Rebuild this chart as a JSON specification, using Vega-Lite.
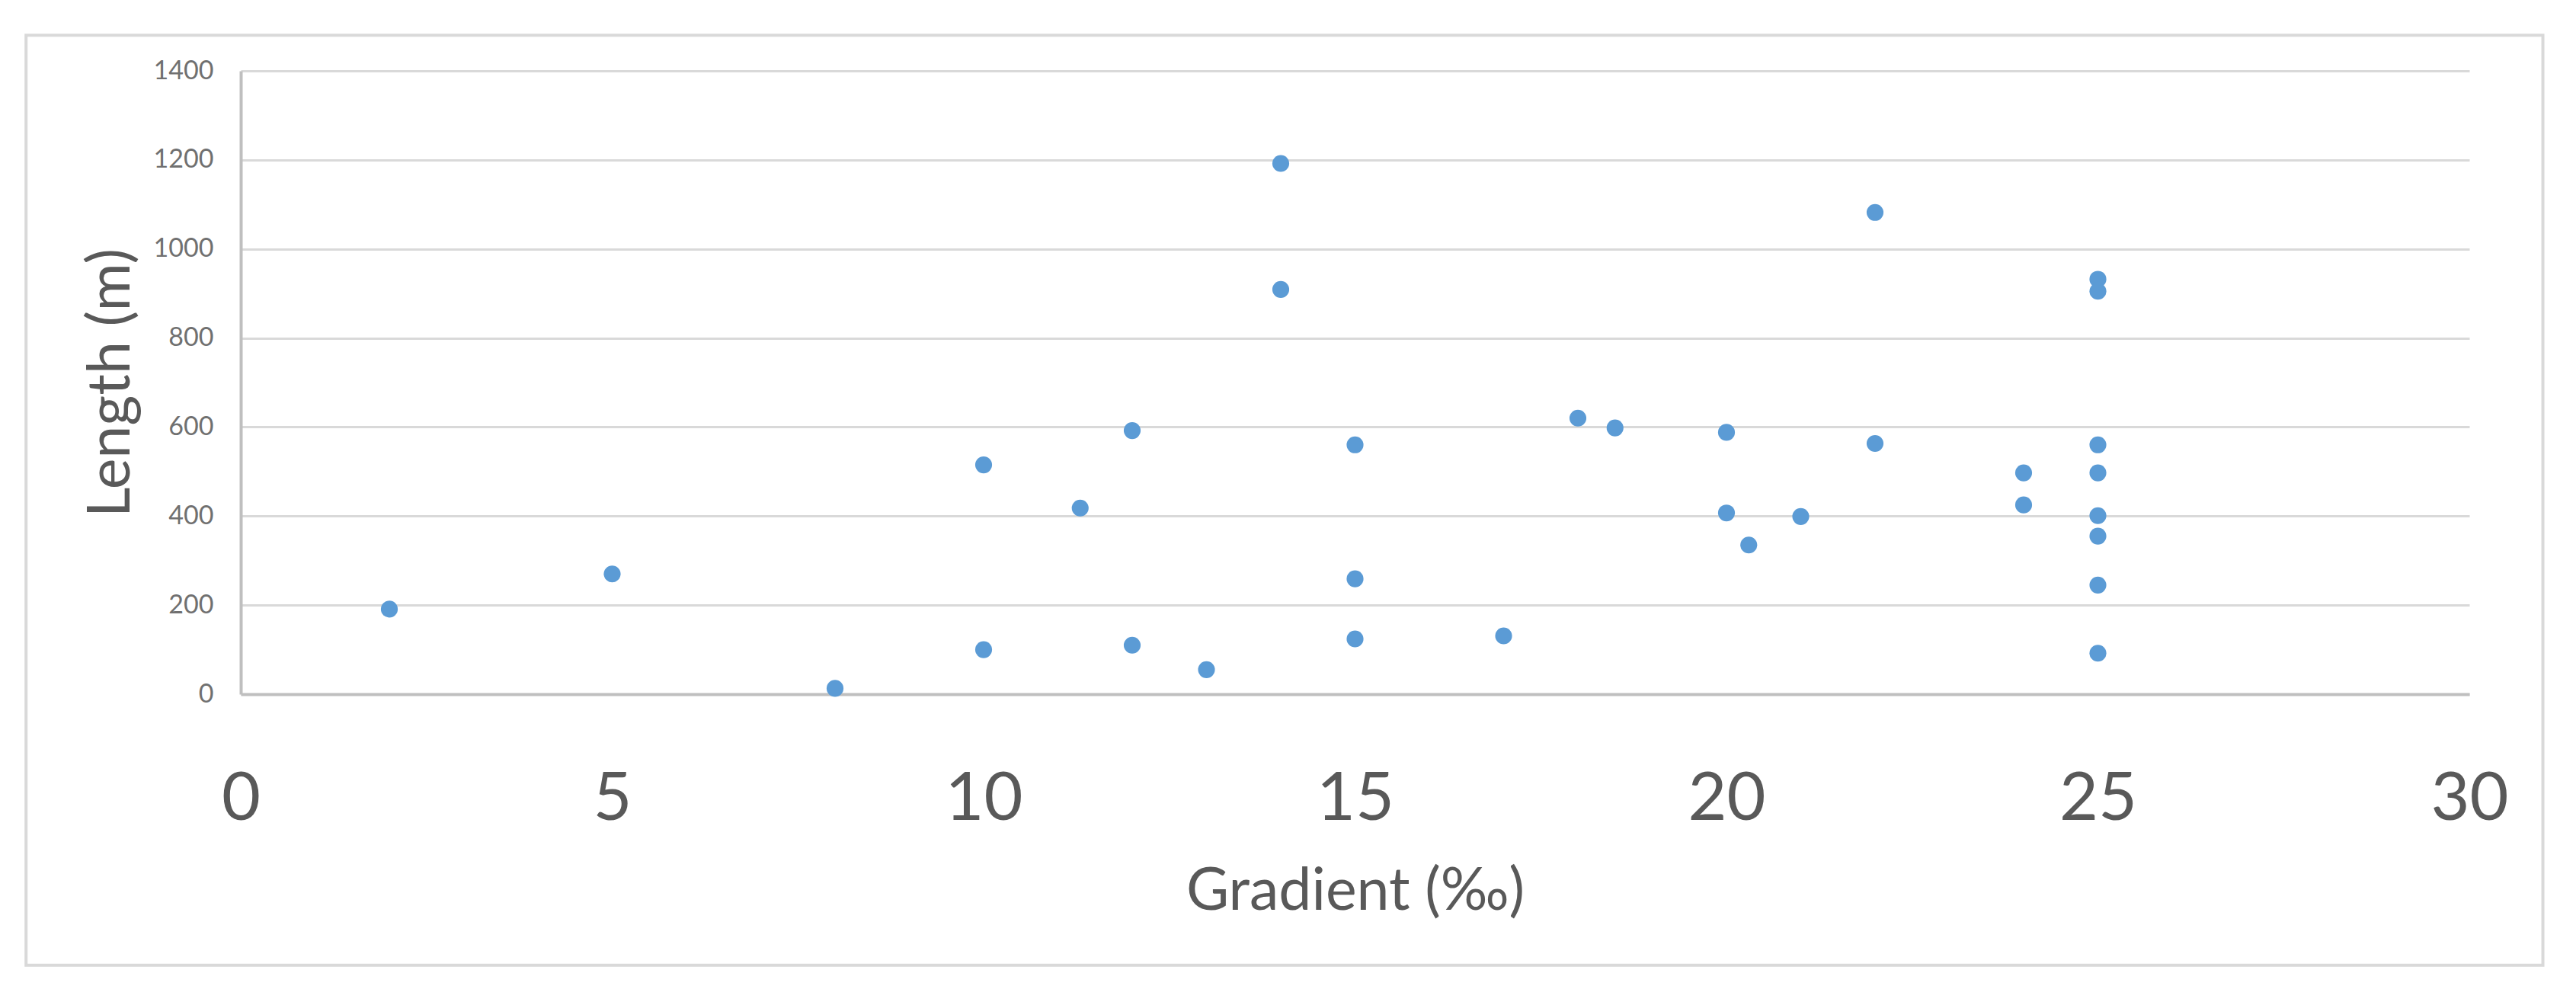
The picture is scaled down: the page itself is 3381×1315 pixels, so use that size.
{
  "$schema": "https://vega.github.io/schema/vega-lite/v6.json",
  "width": 2925,
  "height": 818,
  "autosize": {"type": "none"},
  "padding": {"left": 316, "top": 93, "right": 140, "bottom": 404},
  "background": "white",
  "config": {"view": {"stroke": null}, "font": "Lato"},
  "layer": [
    {
      "data": {
        "values": [
          {"gradient": 2, "length": 191},
          {"gradient": 5, "length": 270},
          {"gradient": 8, "length": 13},
          {"gradient": 10, "length": 515},
          {"gradient": 10, "length": 100},
          {"gradient": 11.3, "length": 418},
          {"gradient": 12, "length": 592},
          {"gradient": 12, "length": 110},
          {"gradient": 13, "length": 55},
          {"gradient": 14, "length": 1192},
          {"gradient": 14, "length": 909},
          {"gradient": 15, "length": 560},
          {"gradient": 15, "length": 259},
          {"gradient": 15, "length": 124},
          {"gradient": 17, "length": 131},
          {"gradient": 18, "length": 620},
          {"gradient": 18.5, "length": 598},
          {"gradient": 20, "length": 588},
          {"gradient": 20, "length": 407},
          {"gradient": 20.3, "length": 335},
          {"gradient": 21, "length": 399},
          {"gradient": 22, "length": 1082},
          {"gradient": 22, "length": 563},
          {"gradient": 24, "length": 497},
          {"gradient": 24, "length": 425},
          {"gradient": 25, "length": 932},
          {"gradient": 25, "length": 905},
          {"gradient": 25, "length": 560},
          {"gradient": 25, "length": 497},
          {"gradient": 25, "length": 401},
          {"gradient": 25, "length": 355},
          {"gradient": 25, "length": 245},
          {"gradient": 25, "length": 92}
        ]
      },
      "mark": {"type": "circle", "size": 490, "color": "#5b9bd5", "opacity": 1},
      "encoding": {
        "x": {
          "field": "gradient",
          "type": "quantitative",
          "scale": {"domain": [0, 30], "nice": false, "zero": false},
          "axis": {
            "title": "Gradient (‰)",
            "values": [0, 5, 10, 15, 20, 25, 30],
            "format": "d",
            "grid": false,
            "domainColor": "#bfbfbf",
            "domainWidth": 4,
            "ticks": false,
            "tickSize": 0,
            "labelFontSize": 88,
            "labelFont": "Lato",
            "labelColor": "#595959",
            "labelPadding": 164,
            "labelBaseline": "alphabetic",
            "labelFlush": false,
            "labelOverlap": false,
            "labelBound": false,
            "titleFont": "Lato",
            "titleFontSize": 77,
            "titleFontWeight": "normal",
            "titleColor": "#595959",
            "titleBaseline": "alphabetic",
            "titleY": 282
          }
        },
        "y": {
          "field": "length",
          "type": "quantitative",
          "scale": {"domain": [0, 1400], "nice": false},
          "axis": {
            "title": "Length (m)",
            "values": [0, 200, 400, 600, 800, 1000, 1200, 1400],
            "format": "d",
            "grid": true,
            "gridColor": "#d9d9d9",
            "gridWidth": 3,
            "domainColor": "#bfbfbf",
            "domainWidth": 4,
            "ticks": false,
            "tickSize": 0,
            "labelFontSize": 34,
            "labelFont": "Lato",
            "labelColor": "#707070",
            "labelPadding": 36,
            "labelOverlap": false,
            "labelFlush": false,
            "titleFont": "Lato",
            "titleFontSize": 77,
            "titleFontWeight": "normal",
            "titleColor": "#595959",
            "titleAngle": 270,
            "titleAlign": "center",
            "titleBaseline": "alphabetic",
            "titleX": -147,
            "titleY": 409
          }
        }
      }
    },
    {
      "data": {"values": [{}]},
      "mark": {"type": "rect", "filled": false, "stroke": "#d9d9d9", "strokeWidth": 4},
      "encoding": {
        "x": {"datum": -2.89, "type": "quantitative"},
        "x2": {"datum": 30.99},
        "y": {"datum": 1480, "type": "quantitative"},
        "y2": {"datum": -609}
      }
    }
  ]
}
